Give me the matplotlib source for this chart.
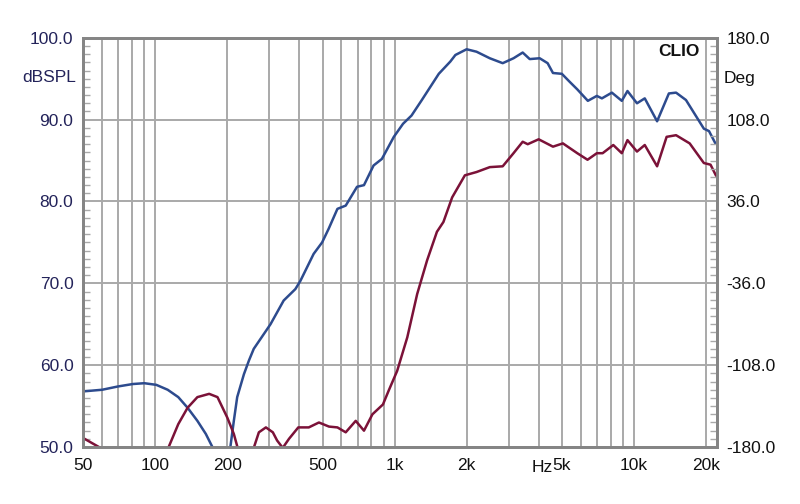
import matplotlib
matplotlib.use('Agg')
import matplotlib.pyplot as plt
from matplotlib.ticker import FixedLocator, MultipleLocator, NullFormatter

plt.rcParams['font.family'] = ['Liberation Sans', 'DejaVu Sans']

# Blue curve (dBSPL)
blue_f = [50, 60, 69.8, 80.6, 90, 101, 112.7, 124.8, 136.5, 150, 162.7, 174, 185, 200,
          206, 213, 220, 234.7, 246.5, 258, 303, 344, 385, 404, 459, 498, 531, 577,
          625, 697, 745, 817, 885, 993, 1085, 1177, 1300, 1530, 1710, 1795, 2000,
          2200, 2500, 2830, 3140, 3430, 3670, 4040, 4360, 4590, 5000, 5400, 5800,
          6420, 7000, 7350, 8090, 8900, 9400, 10300, 11100, 12500, 14000, 15000,
          16500, 19600, 20600, 21900]
blue_db = [56.8, 57.0, 57.4, 57.7, 57.8, 57.6, 57.0, 56.1, 54.8, 53.2, 51.6, 49.9, 47.5, 46.5,
           50.0, 53.2, 56.1, 58.9, 60.6, 62.0, 65.0, 67.9, 69.3, 70.3, 73.6, 75.0, 76.7, 79.1,
           79.5, 81.8, 82.0, 84.4, 85.2, 87.9, 89.5, 90.5, 92.4, 95.6, 97.1, 97.9, 98.6,
           98.3, 97.5, 96.9, 97.5, 98.2, 97.4, 97.5, 96.9, 95.7, 95.6, 94.6, 93.7,
           92.3, 92.9, 92.6, 93.3, 92.3, 93.5, 92.0, 92.6, 89.8, 93.2, 93.3,
           92.4, 88.9, 88.6, 87.1]

# Red curve (dBSPL)
red_f = [50, 59, 70, 90, 100, 113.4, 124.8, 136.5, 150, 168, 182, 200, 213, 221, 235,
         258, 271, 290, 310, 323, 341, 362, 396, 438, 483, 532, 577, 625, 688, 745,
         808, 894, 945, 1025, 1130, 1243, 1367, 1503, 1600, 1740, 1967, 2200, 2500,
         2830, 3140, 3430, 3600, 4000, 4590, 5050, 5800, 6400, 7000, 7400, 8200,
         8900, 9400, 10300, 11100, 12500, 13700, 15000, 17100, 19600, 20900, 22000]
red_db = [51.1, 49.9, 48.0, 47.0, 47.5, 49.9, 52.8, 54.8, 56.1, 56.5, 56.1, 53.6, 51.6, 49.9, 48.0,
          49.9, 51.8, 52.4, 51.8, 50.8, 49.9, 51.0, 52.4, 52.4, 53.0, 52.5, 52.4, 51.8, 53.2, 52.0,
          54.0, 55.2, 56.9, 59.3, 63.4, 68.7, 72.8, 76.3, 77.5, 80.5, 83.2, 83.6, 84.2,
          84.3, 85.9, 87.3, 87.0, 87.6, 86.7, 87.1, 85.9, 85.1, 85.9, 85.9, 86.9,
          85.9, 87.5, 86.1, 86.9, 84.3, 87.9, 88.1, 87.1, 84.7, 84.5, 83.2]

x_ticks = [50, 100, 200, 500, 1000, 2000, 5000, 10000, 20000]
x_labels = ['50', '100', '200', '500', '1k', '2k', '5k', '10k', '20k']
x_grid = [60, 70, 80, 90, 100, 200, 300, 400, 500, 600, 700, 800, 900,
          1000, 2000, 3000, 4000, 5000, 6000, 7000, 8000, 9000, 10000, 20000]
left_ticks = [50, 60, 70, 80, 90, 100]
right_ticks = [-180, -108, -36, 36, 108, 180]

grid_c = '#a9a9a9'
left_c = '#23235a'

fig = plt.figure(figsize=(8, 5.04), dpi=100)
ax = fig.add_axes([0.104, 0.113, 0.792, 0.812])

# mřížka
for f in x_grid:
    ax.axvline(f, color=grid_c, lw=1.4, zorder=1)
for v in left_ticks:
    ax.axhline(v, color=grid_c, lw=1.4, zorder=1)

ax.plot(blue_f, blue_db, color='#2d4b8e', lw=1.8, zorder=3, solid_joinstyle='round')
ax.plot(red_f, red_db, color='#7b1238', lw=1.8, zorder=3, solid_joinstyle='round')

ax.set_xscale('log')
ax.set_xlim(50, 22200)
ax.set_ylim(50, 100)

ax.xaxis.set_major_locator(FixedLocator(x_ticks))
ax.set_xticklabels(x_labels)
ax.xaxis.set_minor_formatter(NullFormatter())
ax.xaxis.set_minor_locator(FixedLocator([]))
ax.tick_params(axis='x', length=0, pad=8, labelsize=12.5, labelcolor='#111111')

ax.yaxis.set_major_locator(FixedLocator(left_ticks))
ax.set_yticklabels(['%.1f' % v for v in left_ticks])
ax.yaxis.set_minor_locator(MultipleLocator(1))
ax.tick_params(axis='y', which='major', length=0, pad=7, labelsize=12.5, labelcolor=left_c)
ax.tick_params(axis='y', which='minor', direction='in', length=5, width=1, color=grid_c)

# pravá osa (fáze)
ax2 = ax.twinx()
ax2.set_ylim(-180, 180)
ax2.yaxis.set_major_locator(FixedLocator(right_ticks))
ax2.set_yticklabels(['%.1f' % v for v in right_ticks])
ax2.yaxis.set_minor_locator(MultipleLocator(7.2))
ax2.tick_params(axis='y', which='major', length=0, pad=7, labelsize=12.5, labelcolor='#111111')
ax2.tick_params(axis='y', which='minor', direction='in', length=5, width=1, color=grid_c)

for a in (ax, ax2):
    for s in a.spines.values():
        s.set_color('#858585')
        s.set_linewidth(2)

fig.text(76 / 800, 1 - 78 / 504, 'dBSPL', ha='right', va='center', fontsize=12.5, color=left_c)
fig.text(724 / 800, 1 - 78 / 504, 'Deg', ha='left', va='center', fontsize=12.5, color='#111111')
fig.text(700 / 800, 1 - 51 / 504, 'CLIO', ha='right', va='center', fontsize=12.5,
         fontweight='bold', color='#111111')
fig.text(553 / 800, 1 - 467 / 504, 'Hz', ha='right', va='center', fontsize=12.5, color='#111111')

fig.savefig('out.png', dpi=100)
